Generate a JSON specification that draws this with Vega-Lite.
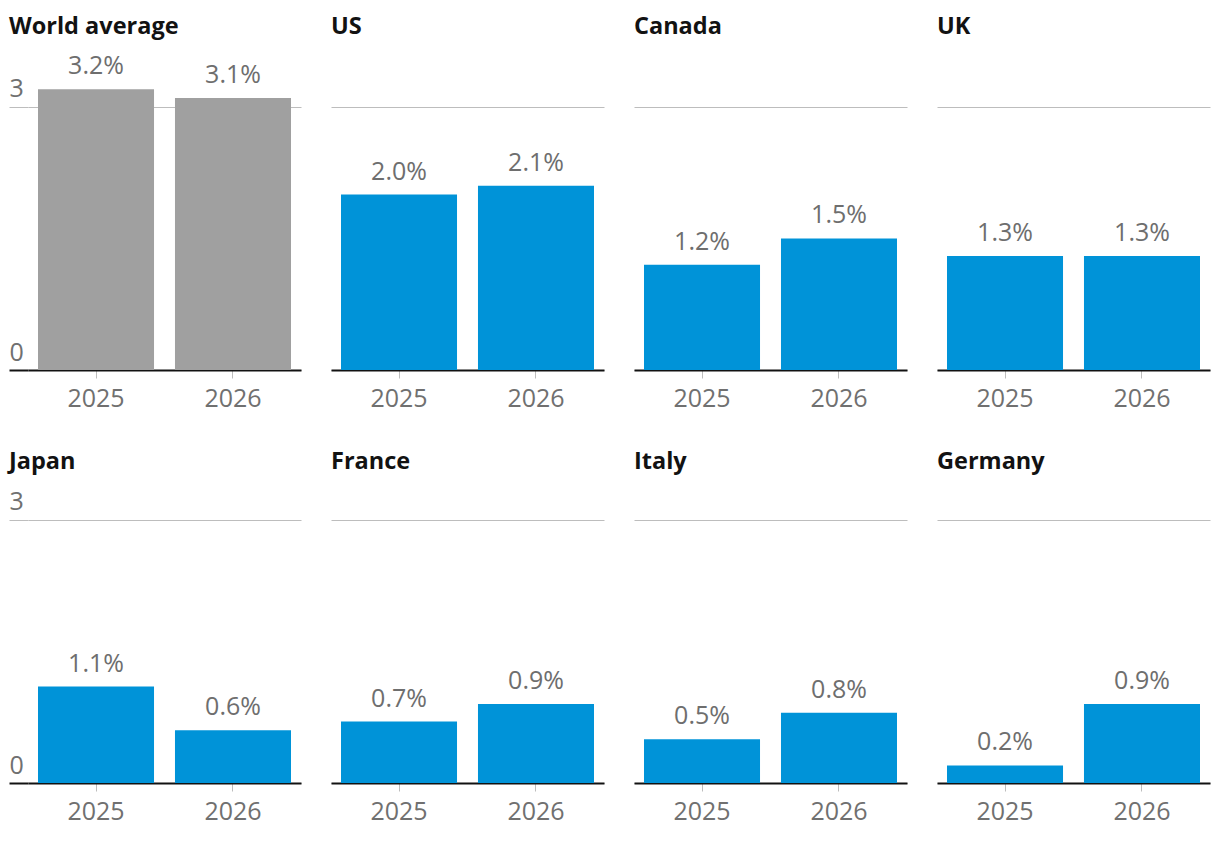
{
  "$schema": "https://vega.github.io/schema/vega-lite/v6.json",
  "padding": {"left": 8, "top": 14, "right": 5, "bottom": 5},
  "data": {
    "values": [
      {"country": "World average", "year": "2025", "value": 3.2},
      {"country": "World average", "year": "2026", "value": 3.1},
      {"country": "US", "year": "2025", "value": 2.0},
      {"country": "US", "year": "2026", "value": 2.1},
      {"country": "Canada", "year": "2025", "value": 1.2},
      {"country": "Canada", "year": "2026", "value": 1.5},
      {"country": "UK", "year": "2025", "value": 1.3},
      {"country": "UK", "year": "2026", "value": 1.3},
      {"country": "Japan", "year": "2025", "value": 1.1},
      {"country": "Japan", "year": "2026", "value": 0.6},
      {"country": "France", "year": "2025", "value": 0.7},
      {"country": "France", "year": "2026", "value": 0.9},
      {"country": "Italy", "year": "2025", "value": 0.5},
      {"country": "Italy", "year": "2026", "value": 0.8},
      {"country": "Germany", "year": "2025", "value": 0.2},
      {"country": "Germany", "year": "2026", "value": 0.9}
    ]
  },
  "transform": [{"calculate": "format(datum.value, '.1f') + '%'", "as": "label"}],
  "columns": 4,
  "spacing": {"row": 106, "column": 30},
  "bounds": "flush",
  "concat": [
    {
      "title": {"text": "World average", "dx": -19, "offset": 16},
      "width": 273, "height": 307,
      "transform": [{"filter": "datum.country === 'World average'"}],
      "encoding": {
        "x": {"field": "year", "type": "nominal", "scale": {"paddingInner": 0.153, "paddingOuter": 0.073}},
        "y": {"field": "value", "type": "quantitative", "scale": {"domain": [0, 3.5], "nice": false},
          "axis": {"values": [0, 3], "tickColor": {"condition": {"test": "datum.value === 0", "value": "#121212"}, "value": "#bdbdbd"}, "tickWidth": {"condition": {"test": "datum.value === 0", "value": 2}, "value": 1}}}
      },
      "layer": [
        {"mark": {"type": "bar", "color": "#a0a0a0"}},
        {"mark": {"type": "text", "dy": -15, "baseline": "alphabetic", "fontSize": 25, "color": "#6e6e6e"}, "encoding": {"text": {"field": "label"}}}
      ]
    },
    {
      "title": {"text": "US", "offset": 25},
      "width": 273, "height": 307,
      "transform": [{"filter": "datum.country === 'US'"}],
      "encoding": {
        "x": {"field": "year", "type": "nominal", "scale": {"paddingInner": 0.153, "paddingOuter": 0.073}},
        "y": {"field": "value", "type": "quantitative", "scale": {"domain": [0, 3.5], "nice": false},
          "axis": {"values": [0, 3], "labels": false, "ticks": false}}
      },
      "layer": [
        {"mark": {"type": "bar", "color": "#0093d8"}},
        {"mark": {"type": "text", "dy": -15, "baseline": "alphabetic", "fontSize": 25, "color": "#6e6e6e"}, "encoding": {"text": {"field": "label"}}}
      ]
    },
    {
      "title": {"text": "Canada", "offset": 25},
      "width": 273, "height": 307,
      "transform": [{"filter": "datum.country === 'Canada'"}],
      "encoding": {
        "x": {"field": "year", "type": "nominal", "scale": {"paddingInner": 0.153, "paddingOuter": 0.073}},
        "y": {"field": "value", "type": "quantitative", "scale": {"domain": [0, 3.5], "nice": false},
          "axis": {"values": [0, 3], "labels": false, "ticks": false}}
      },
      "layer": [
        {"mark": {"type": "bar", "color": "#0093d8"}},
        {"mark": {"type": "text", "dy": -15, "baseline": "alphabetic", "fontSize": 25, "color": "#6e6e6e"}, "encoding": {"text": {"field": "label"}}}
      ]
    },
    {
      "title": {"text": "UK", "offset": 25},
      "width": 273, "height": 307,
      "transform": [{"filter": "datum.country === 'UK'"}],
      "encoding": {
        "x": {"field": "year", "type": "nominal", "scale": {"paddingInner": 0.153, "paddingOuter": 0.073}},
        "y": {"field": "value", "type": "quantitative", "scale": {"domain": [0, 3.5], "nice": false},
          "axis": {"values": [0, 3], "labels": false, "ticks": false}}
      },
      "layer": [
        {"mark": {"type": "bar", "color": "#0093d8"}},
        {"mark": {"type": "text", "dy": -15, "baseline": "alphabetic", "fontSize": 25, "color": "#6e6e6e"}, "encoding": {"text": {"field": "label"}}}
      ]
    },
    {
      "title": {"text": "Japan", "dx": -19, "offset": 3},
      "width": 273, "height": 307,
      "transform": [{"filter": "datum.country === 'Japan'"}],
      "encoding": {
        "x": {"field": "year", "type": "nominal", "scale": {"paddingInner": 0.153, "paddingOuter": 0.073}},
        "y": {"field": "value", "type": "quantitative", "scale": {"domain": [0, 3.5], "nice": false},
          "axis": {"values": [0, 3], "tickColor": {"condition": {"test": "datum.value === 0", "value": "#121212"}, "value": "#bdbdbd"}, "tickWidth": {"condition": {"test": "datum.value === 0", "value": 2}, "value": 1}}}
      },
      "layer": [
        {"mark": {"type": "bar", "color": "#0093d8"}},
        {"mark": {"type": "text", "dy": -15, "baseline": "alphabetic", "fontSize": 25, "color": "#6e6e6e"}, "encoding": {"text": {"field": "label"}}}
      ]
    },
    {
      "title": {"text": "France", "offset": 3},
      "width": 273, "height": 307,
      "transform": [{"filter": "datum.country === 'France'"}],
      "encoding": {
        "x": {"field": "year", "type": "nominal", "scale": {"paddingInner": 0.153, "paddingOuter": 0.073}},
        "y": {"field": "value", "type": "quantitative", "scale": {"domain": [0, 3.5], "nice": false},
          "axis": {"values": [0, 3], "labels": false, "ticks": false}}
      },
      "layer": [
        {"mark": {"type": "bar", "color": "#0093d8"}},
        {"mark": {"type": "text", "dy": -15, "baseline": "alphabetic", "fontSize": 25, "color": "#6e6e6e"}, "encoding": {"text": {"field": "label"}}}
      ]
    },
    {
      "title": {"text": "Italy", "offset": 3},
      "width": 273, "height": 307,
      "transform": [{"filter": "datum.country === 'Italy'"}],
      "encoding": {
        "x": {"field": "year", "type": "nominal", "scale": {"paddingInner": 0.153, "paddingOuter": 0.073}},
        "y": {"field": "value", "type": "quantitative", "scale": {"domain": [0, 3.5], "nice": false},
          "axis": {"values": [0, 3], "labels": false, "ticks": false}}
      },
      "layer": [
        {"mark": {"type": "bar", "color": "#0093d8"}},
        {"mark": {"type": "text", "dy": -15, "baseline": "alphabetic", "fontSize": 25, "color": "#6e6e6e"}, "encoding": {"text": {"field": "label"}}}
      ]
    },
    {
      "title": {"text": "Germany", "offset": 3},
      "width": 273, "height": 307,
      "transform": [{"filter": "datum.country === 'Germany'"}],
      "encoding": {
        "x": {"field": "year", "type": "nominal", "scale": {"paddingInner": 0.153, "paddingOuter": 0.073}},
        "y": {"field": "value", "type": "quantitative", "scale": {"domain": [0, 3.5], "nice": false},
          "axis": {"values": [0, 3], "labels": false, "ticks": false}}
      },
      "layer": [
        {"mark": {"type": "bar", "color": "#0093d8"}},
        {"mark": {"type": "text", "dy": -15, "baseline": "alphabetic", "fontSize": 25, "color": "#6e6e6e"}, "encoding": {"text": {"field": "label"}}}
      ]
    }
  ],
  "config": {
    "font": "Open Sans",
    "view": {"stroke": null},
    "title": {"fontSize": 23.5, "fontWeight": "bold", "color": "#121212", "anchor": "start", "baseline": "alphabetic", "frame": "group"},
    "axisX": {"title": null, "labelAngle": 0, "domainColor": "#121212", "domainWidth": 2, "ticks": true, "tickColor": "#bdbdbd", "tickSize": 8, "labelColor": "#707070", "labelFontSize": 25, "labelPadding": 8, "zindex": 1, "grid": false},
    "axisY": {"title": null, "domain": false, "grid": true, "gridColor": "#bdbdbd", "gridWidth": 1, "tickSize": 19, "labelAlign": "left", "labelBaseline": "alphabetic", "labelPadding": 0, "labelOffset": -10, "labelFontSize": 25, "labelColor": "#707070", "minExtent": 0}
  }
}
